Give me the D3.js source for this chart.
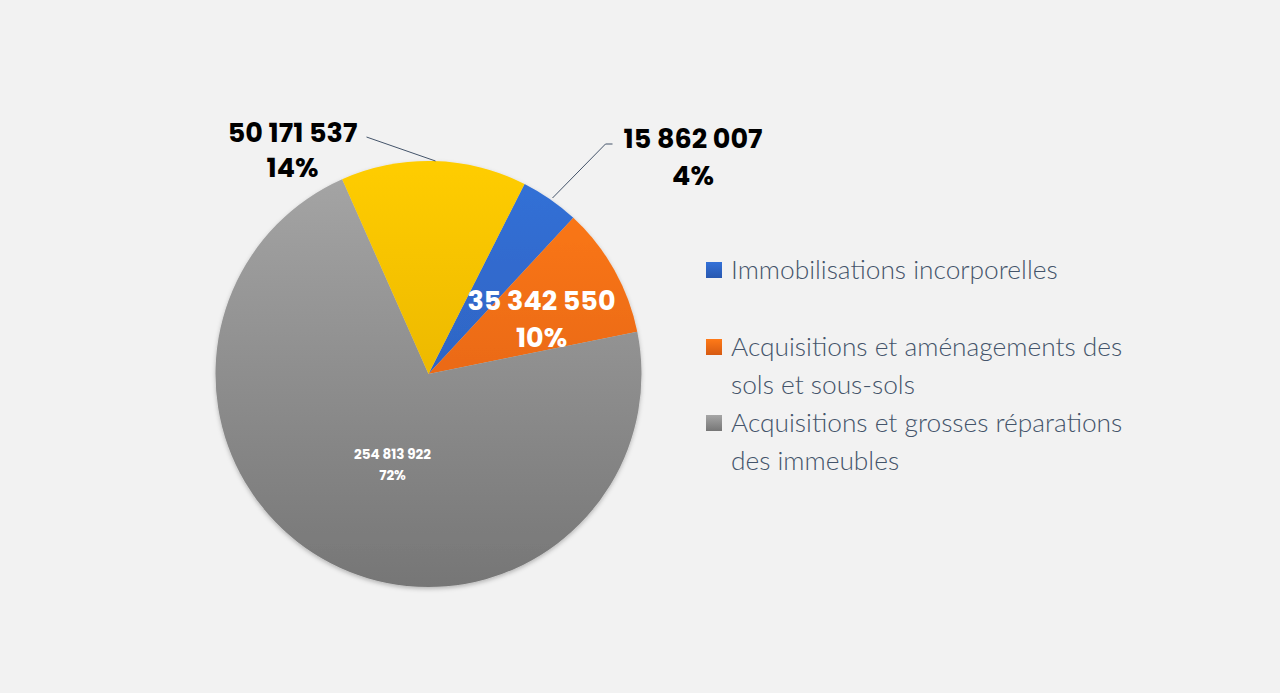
<!DOCTYPE html>
<html>
<head>
<meta charset="utf-8">
<script src="https://cdn.jsdelivr.net/npm/d3@7"></script>
<style>
  body { margin: 0; background: #f2f2f2; }
  svg { display: block; }
</style>
</head>
<body>
<svg id="chart" width="1280" height="693"></svg>
<script>
// données du graphique
const categories = [
    'Immobilisations incorporelles',
    'Acquisitions et aménagements des sols et sous-sols',
    'Acquisitions et grosses réparations des immeubles',
    'Autres',
]
const values = [15862007, 35342550, 254813922, 50171537]
const percentLabels = ['4%', '10%', '72%', '14%']
const legendLines = [
    ['Immobilisations incorporelles'],
    ['Acquisitions et aménagements des', 'sols et sous-sols'],
    ['Acquisitions et grosses réparations', 'des immeubles'],
]
const colorsTop = ['#3471d8', '#ff7a18', '#a6a6a6', '#ffcd00']
const colorsBottom = ['#2858b0', '#d65a12', '#767676', '#dba500']

const svg = d3.select('#chart')
const cx = 428.5
const cy = 374
const radius = 213
const startAngle = 26.8 * Math.PI / 180

const fmt = v => d3.format(',')(v).replace(/,/g, ' ')

const defs = svg.append('defs')
colorsTop.forEach((c, i) => {
    const g = defs.append('linearGradient')
        .attr('id', `grad${i}`)
        .attr('gradientUnits', 'userSpaceOnUse')
        .attr('x1', 0).attr('y1', -radius)
        .attr('x2', 0).attr('y2', radius)
    g.append('stop').attr('offset', '0%').attr('stop-color', c)
    g.append('stop').attr('offset', '100%').attr('stop-color', colorsBottom[i])
})
// ombre légère sous le camembert
const shadow = defs.append('filter').attr('id', 'shadow')
    .attr('x', '-10%').attr('y', '-10%').attr('width', '120%').attr('height', '120%')
shadow.append('feDropShadow')
    .attr('dx', 0).attr('dy', 2).attr('stdDeviation', 2)
    .attr('flood-color', '#000').attr('flood-opacity', 0.25)

const pie = d3.pie()
    .sort(null)
    .value(d => d)
    .startAngle(startAngle)
    .endAngle(startAngle + 2 * Math.PI)

const arcs = pie(values)
const arc = d3.arc().innerRadius(0).outerRadius(radius)

const g = svg.append('g')
    .attr('transform', `translate(${cx},${cy})`)

g.append('g')
    .attr('filter', 'url(#shadow)')
    .selectAll('path')
    .data(arcs)
    .join('path')
    .attr('d', arc)
    .attr('fill', (d, i) => `url(#grad${i})`)

// étiquettes : positions relatives au centre
const labelPos = [
    { x: 264.5, y: -226, size: 27, gap: 37, color: '#000', line: [[184, -230], [177, -230], [124, -176]] },
    { x: 113, y: -64, size: 27, gap: 37, color: '#fff' },
    { x: -36, y: 85, size: 13.5, gap: 21, color: '#fff' },
    { x: -136, y: -232, size: 27, gap: 35, color: '#000', line: [[-62, -237], [7, -213]] },
]

const labels = g.append('g')
    .attr('font-family', 'Poppins, Inter, "DejaVu Sans", sans-serif')
    .attr('font-weight', 700)
    .attr('text-anchor', 'middle')

arcs.forEach((d, i) => {
    const p = labelPos[i]
    if (p.line) {
        labels.append('polyline')
            .attr('points', p.line.map(q => q.join(',')).join(' '))
            .attr('fill', 'none')
            .attr('stroke', '#44546a')
            .attr('stroke-width', 1)
    }
    const t = labels.append('text')
        .attr('x', p.x)
        .attr('y', p.y)
        .attr('font-size', p.size)
        .attr('fill', p.color)
    t.append('tspan').attr('x', p.x).text(fmt(d.data))
    t.append('tspan').attr('x', p.x).attr('dy', p.gap).text(percentLabels[i])
})

// légende
const legendY = [270, 347, 423]
const legend = svg.append('g')
    .attr('font-family', 'Lato, "Open Sans", sans-serif')
    .attr('font-weight', 300)
    .attr('font-size', 26.3)
    .attr('fill', '#44546a')

legendLines.forEach((lines, i) => {
    const item = legend.append('g')
        .attr('transform', `translate(706,${legendY[i]})`)
    const lg = defs.append('linearGradient')
        .attr('id', `lgrad${i}`)
        .attr('x1', 0).attr('y1', 0).attr('x2', 0).attr('y2', 1)
    lg.append('stop').attr('offset', '0%').attr('stop-color', colorsTop[i])
    lg.append('stop').attr('offset', '100%').attr('stop-color', colorsBottom[i])
    item.append('rect')
        .attr('x', 0).attr('y', -8)
        .attr('width', 16).attr('height', 16)
        .attr('fill', `url(#lgrad${i})`)
    lines.forEach((s, j) => {
        item.append('text')
            .attr('x', 25)
            .attr('y', 9 + j * 38)
            .text(s)
    })
})
</script>
</body>
</html>
